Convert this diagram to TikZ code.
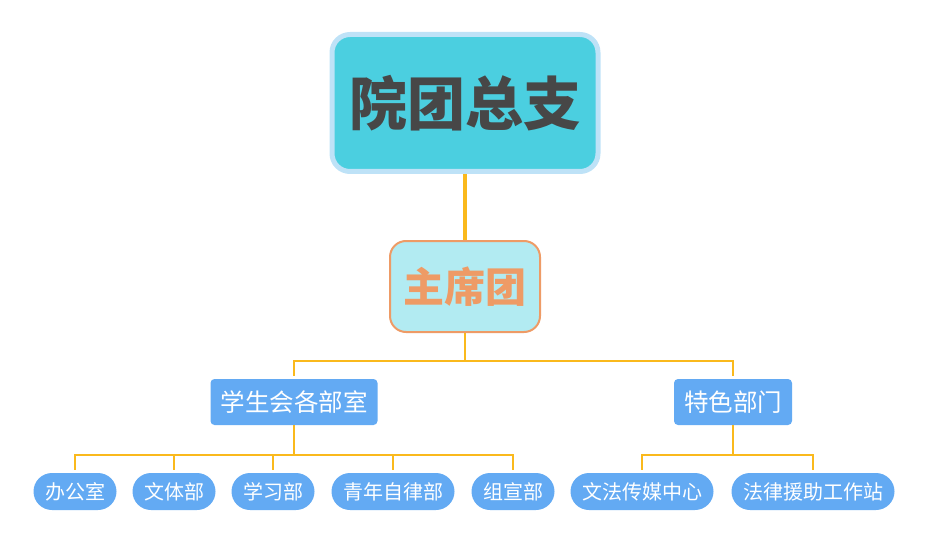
\documentclass[tikz,border=0pt]{standalone}
\usepackage{fontspec}
\setmainfont{Noto Sans CJK SC}
\usetikzlibrary{positioning}

\definecolor{topfill}{HTML}{4BCFE0}
\definecolor{topline}{HTML}{BEE2F7}
\definecolor{midfill}{HTML}{B2EBF2}
\definecolor{midline}{HTML}{EE9B66}
\definecolor{bluebox}{HTML}{63AAF3}
\definecolor{linkcol}{HTML}{FAB91C}

\tikzset{
    dept/.style={rectangle,rounded corners=4pt,fill=bluebox,text=white,
        font=\fontsize{24.5}{26}\selectfont,inner xsep=10pt,minimum height=46pt},
    leaf/.style={rectangle,rounded corners=18.5pt,fill=bluebox,text=white,
        font=\fontsize{20}{22}\selectfont,inner xsep=11.5pt,minimum height=37pt},
    link/.style={draw=linkcol,line width=2pt}
}

\begin{document}
\begin{tikzpicture}[x=1pt,y=-1pt,node distance=66pt]

            \useasboundingbox (0,0) rectangle (931,548);

            \node[rectangle,rounded corners=18pt,draw=topline,line width=5pt,fill=topfill,
                  text=black!72,font=\fontsize{58}{60}\selectfont\bfseries,
                  minimum width=266pt,minimum height=137pt] (zong) at (465,103) {院团总支};

            \node[rectangle,rounded corners=16pt,draw=midline,line width=2pt,fill=midfill,
                  text=midline,font=\fontsize{41}{44}\selectfont\bfseries,
                  minimum width=150pt,minimum height=91pt] (zxt) [below=of zong] {主席团};

            \node[dept] (xsh) at (294,402) {学生会各部室};

            \node[dept] (tese) at (733,402) {特色部门};

            \node[leaf] (bgs) at (75,491.5) {办公室};

            \node[leaf] (wtb) at (174,491.5) {文体部};

            \node[leaf] (xxb) at (273,491.5) {学习部};

            \node[leaf] (qnzl) at (393,491.5) {青年自律部};

            \node[leaf] (zxb) at (513,491.5) {组宣部};

            \node[leaf] (wfcm) at (642,491.5) {文法传媒中心};

            \node[leaf] (flyz) at (813,491.5) {法律援助工作站};

            \coordinate (fork1) at (465,361);
            \coordinate (fork2) at (294,455);
            \coordinate (fork3) at (733,455);

            \draw[link,line width=4.5pt] (zong) -- (zxt);

            \draw[link] (zxt) -- (fork1);
            \draw[link,shorten >=3pt] (fork1) -| (xsh);
            \draw[link,shorten >=3pt] (fork1) -| (tese);

            \draw[link] (xsh) -- (fork2);
            \draw[link,shorten >=3pt] (fork2) -| (bgs);
            \draw[link,shorten >=3pt] (fork2) -| (wtb);
            \draw[link,shorten >=3pt] (fork2) -| (xxb);
            \draw[link,shorten >=3pt] (fork2) -| (qnzl);
            \draw[link,shorten >=3pt] (fork2) -| (zxb);

            \draw[link] (tese) -- (fork3);
            \draw[link,shorten >=3pt] (fork3) -| (wfcm);
            \draw[link,shorten >=3pt] (fork3) -| (flyz);

        \end{tikzpicture}
\end{document}
